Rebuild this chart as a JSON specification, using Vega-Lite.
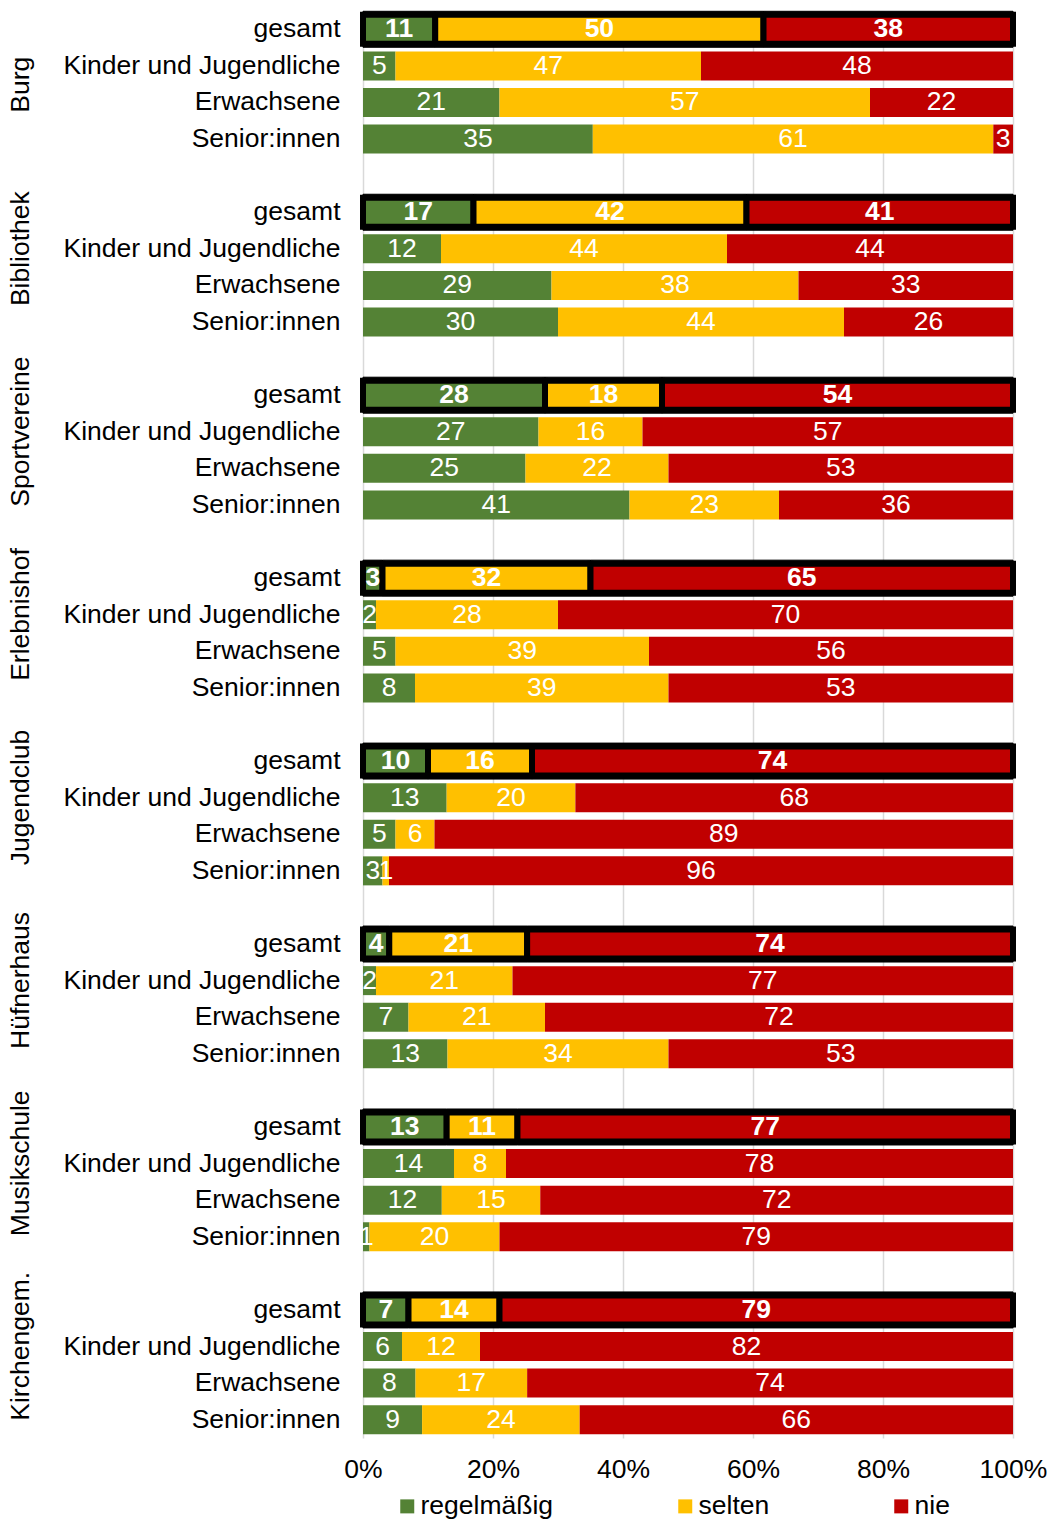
{
  "$schema": "https://vega.github.io/schema/vega-lite/v6.json",
  "autosize": {"type": "none"},
  "padding": {"left": 363, "top": 11, "right": 37, "bottom": 83},
  "width": 650,
  "height": 1427,
  "background": "#ffffff",
  "config": {"font": "Liberation Sans", "view": {"stroke": null}},
  "data": {"values": [
    {"row":"Burg|gesamt","g":"Burg","c":"regelmäßig","k":1,"v":11},{"row":"Burg|gesamt","g":"Burg","c":"selten","k":2,"v":50},{"row":"Burg|gesamt","g":"Burg","c":"nie","k":3,"v":38},
    {"row":"Burg|Kinder und Jugendliche","g":"Burg","c":"regelmäßig","k":1,"v":5},{"row":"Burg|Kinder und Jugendliche","g":"Burg","c":"selten","k":2,"v":47},{"row":"Burg|Kinder und Jugendliche","g":"Burg","c":"nie","k":3,"v":48},
    {"row":"Burg|Erwachsene","g":"Burg","c":"regelmäßig","k":1,"v":21},{"row":"Burg|Erwachsene","g":"Burg","c":"selten","k":2,"v":57},{"row":"Burg|Erwachsene","g":"Burg","c":"nie","k":3,"v":22},
    {"row":"Burg|Senior:innen","g":"Burg","c":"regelmäßig","k":1,"v":35},{"row":"Burg|Senior:innen","g":"Burg","c":"selten","k":2,"v":61},{"row":"Burg|Senior:innen","g":"Burg","c":"nie","k":3,"v":3},
    {"row":"Bibliothek|gesamt","g":"Bibliothek","c":"regelmäßig","k":1,"v":17},{"row":"Bibliothek|gesamt","g":"Bibliothek","c":"selten","k":2,"v":42},{"row":"Bibliothek|gesamt","g":"Bibliothek","c":"nie","k":3,"v":41},
    {"row":"Bibliothek|Kinder und Jugendliche","g":"Bibliothek","c":"regelmäßig","k":1,"v":12},{"row":"Bibliothek|Kinder und Jugendliche","g":"Bibliothek","c":"selten","k":2,"v":44},{"row":"Bibliothek|Kinder und Jugendliche","g":"Bibliothek","c":"nie","k":3,"v":44},
    {"row":"Bibliothek|Erwachsene","g":"Bibliothek","c":"regelmäßig","k":1,"v":29},{"row":"Bibliothek|Erwachsene","g":"Bibliothek","c":"selten","k":2,"v":38},{"row":"Bibliothek|Erwachsene","g":"Bibliothek","c":"nie","k":3,"v":33},
    {"row":"Bibliothek|Senior:innen","g":"Bibliothek","c":"regelmäßig","k":1,"v":30},{"row":"Bibliothek|Senior:innen","g":"Bibliothek","c":"selten","k":2,"v":44},{"row":"Bibliothek|Senior:innen","g":"Bibliothek","c":"nie","k":3,"v":26},
    {"row":"Sportvereine|gesamt","g":"Sportvereine","c":"regelmäßig","k":1,"v":28},{"row":"Sportvereine|gesamt","g":"Sportvereine","c":"selten","k":2,"v":18},{"row":"Sportvereine|gesamt","g":"Sportvereine","c":"nie","k":3,"v":54},
    {"row":"Sportvereine|Kinder und Jugendliche","g":"Sportvereine","c":"regelmäßig","k":1,"v":27},{"row":"Sportvereine|Kinder und Jugendliche","g":"Sportvereine","c":"selten","k":2,"v":16},{"row":"Sportvereine|Kinder und Jugendliche","g":"Sportvereine","c":"nie","k":3,"v":57},
    {"row":"Sportvereine|Erwachsene","g":"Sportvereine","c":"regelmäßig","k":1,"v":25},{"row":"Sportvereine|Erwachsene","g":"Sportvereine","c":"selten","k":2,"v":22},{"row":"Sportvereine|Erwachsene","g":"Sportvereine","c":"nie","k":3,"v":53},
    {"row":"Sportvereine|Senior:innen","g":"Sportvereine","c":"regelmäßig","k":1,"v":41},{"row":"Sportvereine|Senior:innen","g":"Sportvereine","c":"selten","k":2,"v":23},{"row":"Sportvereine|Senior:innen","g":"Sportvereine","c":"nie","k":3,"v":36},
    {"row":"Erlebnishof|gesamt","g":"Erlebnishof","c":"regelmäßig","k":1,"v":3},{"row":"Erlebnishof|gesamt","g":"Erlebnishof","c":"selten","k":2,"v":32},{"row":"Erlebnishof|gesamt","g":"Erlebnishof","c":"nie","k":3,"v":65},
    {"row":"Erlebnishof|Kinder und Jugendliche","g":"Erlebnishof","c":"regelmäßig","k":1,"v":2},{"row":"Erlebnishof|Kinder und Jugendliche","g":"Erlebnishof","c":"selten","k":2,"v":28},{"row":"Erlebnishof|Kinder und Jugendliche","g":"Erlebnishof","c":"nie","k":3,"v":70},
    {"row":"Erlebnishof|Erwachsene","g":"Erlebnishof","c":"regelmäßig","k":1,"v":5},{"row":"Erlebnishof|Erwachsene","g":"Erlebnishof","c":"selten","k":2,"v":39},{"row":"Erlebnishof|Erwachsene","g":"Erlebnishof","c":"nie","k":3,"v":56},
    {"row":"Erlebnishof|Senior:innen","g":"Erlebnishof","c":"regelmäßig","k":1,"v":8},{"row":"Erlebnishof|Senior:innen","g":"Erlebnishof","c":"selten","k":2,"v":39},{"row":"Erlebnishof|Senior:innen","g":"Erlebnishof","c":"nie","k":3,"v":53},
    {"row":"Jugendclub|gesamt","g":"Jugendclub","c":"regelmäßig","k":1,"v":10},{"row":"Jugendclub|gesamt","g":"Jugendclub","c":"selten","k":2,"v":16},{"row":"Jugendclub|gesamt","g":"Jugendclub","c":"nie","k":3,"v":74},
    {"row":"Jugendclub|Kinder und Jugendliche","g":"Jugendclub","c":"regelmäßig","k":1,"v":13},{"row":"Jugendclub|Kinder und Jugendliche","g":"Jugendclub","c":"selten","k":2,"v":20},{"row":"Jugendclub|Kinder und Jugendliche","g":"Jugendclub","c":"nie","k":3,"v":68},
    {"row":"Jugendclub|Erwachsene","g":"Jugendclub","c":"regelmäßig","k":1,"v":5},{"row":"Jugendclub|Erwachsene","g":"Jugendclub","c":"selten","k":2,"v":6},{"row":"Jugendclub|Erwachsene","g":"Jugendclub","c":"nie","k":3,"v":89},
    {"row":"Jugendclub|Senior:innen","g":"Jugendclub","c":"regelmäßig","k":1,"v":3},{"row":"Jugendclub|Senior:innen","g":"Jugendclub","c":"selten","k":2,"v":1},{"row":"Jugendclub|Senior:innen","g":"Jugendclub","c":"nie","k":3,"v":96},
    {"row":"Hüfnerhaus|gesamt","g":"Hüfnerhaus","c":"regelmäßig","k":1,"v":4},{"row":"Hüfnerhaus|gesamt","g":"Hüfnerhaus","c":"selten","k":2,"v":21},{"row":"Hüfnerhaus|gesamt","g":"Hüfnerhaus","c":"nie","k":3,"v":74},
    {"row":"Hüfnerhaus|Kinder und Jugendliche","g":"Hüfnerhaus","c":"regelmäßig","k":1,"v":2},{"row":"Hüfnerhaus|Kinder und Jugendliche","g":"Hüfnerhaus","c":"selten","k":2,"v":21},{"row":"Hüfnerhaus|Kinder und Jugendliche","g":"Hüfnerhaus","c":"nie","k":3,"v":77},
    {"row":"Hüfnerhaus|Erwachsene","g":"Hüfnerhaus","c":"regelmäßig","k":1,"v":7},{"row":"Hüfnerhaus|Erwachsene","g":"Hüfnerhaus","c":"selten","k":2,"v":21},{"row":"Hüfnerhaus|Erwachsene","g":"Hüfnerhaus","c":"nie","k":3,"v":72},
    {"row":"Hüfnerhaus|Senior:innen","g":"Hüfnerhaus","c":"regelmäßig","k":1,"v":13},{"row":"Hüfnerhaus|Senior:innen","g":"Hüfnerhaus","c":"selten","k":2,"v":34},{"row":"Hüfnerhaus|Senior:innen","g":"Hüfnerhaus","c":"nie","k":3,"v":53},
    {"row":"Musikschule|gesamt","g":"Musikschule","c":"regelmäßig","k":1,"v":13},{"row":"Musikschule|gesamt","g":"Musikschule","c":"selten","k":2,"v":11},{"row":"Musikschule|gesamt","g":"Musikschule","c":"nie","k":3,"v":77},
    {"row":"Musikschule|Kinder und Jugendliche","g":"Musikschule","c":"regelmäßig","k":1,"v":14},{"row":"Musikschule|Kinder und Jugendliche","g":"Musikschule","c":"selten","k":2,"v":8},{"row":"Musikschule|Kinder und Jugendliche","g":"Musikschule","c":"nie","k":3,"v":78},
    {"row":"Musikschule|Erwachsene","g":"Musikschule","c":"regelmäßig","k":1,"v":12},{"row":"Musikschule|Erwachsene","g":"Musikschule","c":"selten","k":2,"v":15},{"row":"Musikschule|Erwachsene","g":"Musikschule","c":"nie","k":3,"v":72},
    {"row":"Musikschule|Senior:innen","g":"Musikschule","c":"regelmäßig","k":1,"v":1},{"row":"Musikschule|Senior:innen","g":"Musikschule","c":"selten","k":2,"v":20},{"row":"Musikschule|Senior:innen","g":"Musikschule","c":"nie","k":3,"v":79},
    {"row":"Kirchengem.|gesamt","g":"Kirchengem.","c":"regelmäßig","k":1,"v":7},{"row":"Kirchengem.|gesamt","g":"Kirchengem.","c":"selten","k":2,"v":14},{"row":"Kirchengem.|gesamt","g":"Kirchengem.","c":"nie","k":3,"v":79},
    {"row":"Kirchengem.|Kinder und Jugendliche","g":"Kirchengem.","c":"regelmäßig","k":1,"v":6},{"row":"Kirchengem.|Kinder und Jugendliche","g":"Kirchengem.","c":"selten","k":2,"v":12},{"row":"Kirchengem.|Kinder und Jugendliche","g":"Kirchengem.","c":"nie","k":3,"v":82},
    {"row":"Kirchengem.|Erwachsene","g":"Kirchengem.","c":"regelmäßig","k":1,"v":8},{"row":"Kirchengem.|Erwachsene","g":"Kirchengem.","c":"selten","k":2,"v":17},{"row":"Kirchengem.|Erwachsene","g":"Kirchengem.","c":"nie","k":3,"v":74},
    {"row":"Kirchengem.|Senior:innen","g":"Kirchengem.","c":"regelmäßig","k":1,"v":9},{"row":"Kirchengem.|Senior:innen","g":"Kirchengem.","c":"selten","k":2,"v":24},{"row":"Kirchengem.|Senior:innen","g":"Kirchengem.","c":"nie","k":3,"v":66}
  ]},
  "layer": [
    {
      "encoding": {
        "y": {
          "field": "row", "type": "nominal",
          "scale": {"type": "band", "paddingInner": 0, "paddingOuter": 0, "domain": [
            "Burg|gesamt","Burg|Kinder und Jugendliche","Burg|Erwachsene","Burg|Senior:innen","gap1",
            "Bibliothek|gesamt","Bibliothek|Kinder und Jugendliche","Bibliothek|Erwachsene","Bibliothek|Senior:innen","gap2",
            "Sportvereine|gesamt","Sportvereine|Kinder und Jugendliche","Sportvereine|Erwachsene","Sportvereine|Senior:innen","gap3",
            "Erlebnishof|gesamt","Erlebnishof|Kinder und Jugendliche","Erlebnishof|Erwachsene","Erlebnishof|Senior:innen","gap4",
            "Jugendclub|gesamt","Jugendclub|Kinder und Jugendliche","Jugendclub|Erwachsene","Jugendclub|Senior:innen","gap5",
            "Hüfnerhaus|gesamt","Hüfnerhaus|Kinder und Jugendliche","Hüfnerhaus|Erwachsene","Hüfnerhaus|Senior:innen","gap6",
            "Musikschule|gesamt","Musikschule|Kinder und Jugendliche","Musikschule|Erwachsene","Musikschule|Senior:innen","gap7",
            "Kirchengem.|gesamt","Kirchengem.|Kinder und Jugendliche","Kirchengem.|Erwachsene","Kirchengem.|Senior:innen"
          ]},
          "axis": {
            "title": null, "domain": false, "ticks": false, "tickSize": 0,
            "labelPadding": 23, "labelFontSize": 26.5, "labelColor": "#000000", "labelLimit": 500,
            "labelExpr": "indexof(datum.value, '|') >= 0 ? split(datum.value, '|')[1] : ''"
          }
        },
        "x": {
          "field": "v", "type": "quantitative", "stack": "normalize",
          "scale": {"domain": [0, 1]},
          "axis": {
            "title": null, "values": [0, 0.2, 0.4, 0.6, 0.8, 1], "format": ".0%",
            "grid": true, "gridColor": "#D9D9D9", "gridWidth": 1.5,
            "domain": false, "ticks": false, "tickSize": 0,
            "labelPadding": 18, "labelFontSize": 26.5, "labelColor": "#000000", "labelFlush": false
          }
        },
        "order": {"field": "k", "type": "quantitative"}
      },
      "layer": [
        {
          "transform": [{"filter": "indexof(datum.row, 'gesamt') >= 0"}],
          "mark": {"type": "bar", "height": 36, "color": "#000000", "stroke": "#000000", "strokeWidth": 1},
          "encoding": {"detail": {"field": "c"}}
        },
        {
          "mark": {"type": "bar", "height": 29, "stroke": "#000000"},
          "encoding": {
            "color": {
              "field": "c", "type": "nominal",
              "scale": {"domain": ["regelmäßig", "selten", "nie"], "range": ["#548235", "#FFC000", "#C00000"]},
              "legend": {
                "orient": "none", "legendX": 31, "legendY": 1482, "direction": "horizontal", "title": null,
                "padding": 0, "symbolType": "square", "symbolSize": 196, "symbolStrokeWidth": 0, "symbolOpacity": 1,
                "labelFontSize": 26.5, "labelColor": "#000000", "columnPadding": 118, "labelOffset": 0, "labelLimit": 300
              }
            },
            "strokeWidth": {"condition": {"test": "indexof(datum.row, 'gesamt') >= 0", "value": 6}, "value": 0}
          }
        },
        {
          "transform": [{"filter": "indexof(datum.row, 'gesamt') >= 0"}],
          "mark": {"type": "text", "color": "#ffffff", "fontSize": 26.5, "fontWeight": "bold", "baseline": "middle", "align": "center"},
          "encoding": {
            "x": {"field": "v", "type": "quantitative", "stack": "normalize", "bandPosition": 0.5},
            "detail": {"field": "c"},
            "text": {"field": "v", "type": "quantitative"}
          }
        },
        {
          "transform": [{"filter": "indexof(datum.row, 'gesamt') < 0"}],
          "mark": {"type": "text", "color": "#ffffff", "fontSize": 26.5, "baseline": "middle", "align": "center"},
          "encoding": {
            "x": {"field": "v", "type": "quantitative", "stack": "normalize", "bandPosition": 0.5},
            "detail": {"field": "c"},
            "text": {"field": "v", "type": "quantitative"}
          }
        }
      ]
    },
    {
      "mark": {"type": "point", "opacity": 0},
      "encoding": {
        "y": {
          "field": "g", "type": "nominal",
          "scale": {"type": "point", "padding": 0.4, "domain": ["Burg", "Bibliothek", "Sportvereine", "Erlebnishof", "Jugendclub", "Hüfnerhaus", "Musikschule", "Kirchengem."]},
          "axis": {
            "orient": "left", "title": null, "domain": false, "ticks": false, "tickSize": 0,
            "offset": 320, "labelPadding": 9, "labelAngle": 270, "labelAlign": "center", "labelBaseline": "bottom",
            "labelFontSize": 26.5, "labelColor": "#000000", "labelLimit": 400,
            "labelOffset": {"condition": {"test": "datum.value === 'Burg'", "value": 0}, "value": -19}
          }
        }
      }
    }
  ],
  "resolve": {"scale": {"y": "independent"}}
}
